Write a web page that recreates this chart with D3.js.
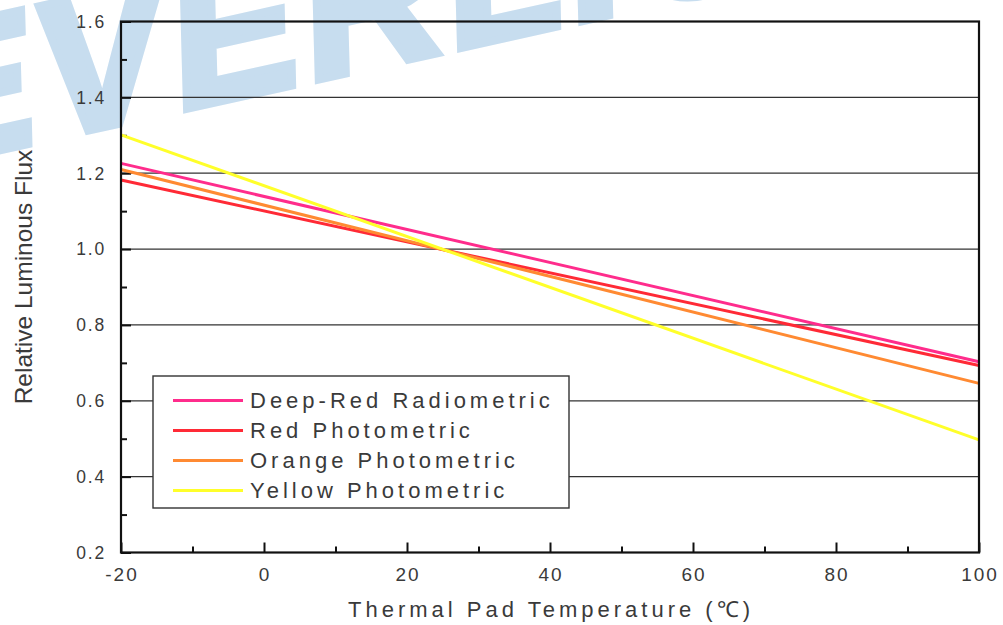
<!DOCTYPE html>
<html>
<head>
<meta charset="utf-8">
<script src="https://cdn.jsdelivr.net/npm/d3@7"></script>
<style>
  html, body { margin: 0; padding: 0; background: #fff; }
  svg { display: block; }
</style>
</head>
<body>
<svg id="chart" width="1003" height="625"></svg>
<script>
// ---- data ----
const temperatures = [-20, 100];
const deepRedRadiometric = [1.226, 0.703];
const redPhotometric = [1.182, 0.693];
const orangePhotometric = [1.210, 0.646];
const yellowPhotometric = [1.301, 0.497];
const seriesNames = ["Deep-Red Radiometric", "Red Photometric", "Orange Photometric", "Yellow Photometric"];
const seriesColors = ["#ff2c8c", "#ff2a36", "#ff8a32", "#ffff2a"];
const xTickValues = [-20, 0, 20, 40, 60, 80, 100];
const yTickValues = [0.2, 0.4, 0.6, 0.8, 1.0, 1.2, 1.4, 1.6];
const xTitle = "Thermal Pad Temperature (\u2103)";
const yTitle = "Relative Luminous Flux";
const watermark = "EVERLIGHT";

const seriesValues = [deepRedRadiometric, redPhotometric, orangePhotometric, yellowPhotometric];

// ---- layout ----
const svg = d3.select("#chart");
const pLeft = 121, pRight = 979, pTop = 21.5, pBottom = 552.5;
const x = d3.scaleLinear().domain([-20, 100]).range([pLeft, pRight]);
const y = d3.scaleLinear().domain([0.2, 1.6]).range([pBottom, pTop]);
const textColor = "#3a3a3a";

// watermark (behind everything)
svg.append("text")
  .attr("transform", "translate(-80,168) rotate(-12.5)")
  .attr("font-family", "'Liberation Sans', Arial, sans-serif")
  .attr("font-weight", "bold")
  .attr("font-style", "italic")
  .attr("font-size", 192)
  .attr("letter-spacing", 7)
  .attr("fill", "#c7ddef")
  .attr("stroke", "#c7ddef")
  .attr("stroke-width", 8)
  .attr("stroke-linejoin", "miter")
  .text(watermark);

// gridlines
svg.append("g")
  .selectAll("line")
  .data(yTickValues.filter(v => v > 0.2 && v < 1.6))
  .join("line")
  .attr("x1", pLeft).attr("x2", pRight)
  .attr("y1", d => y(d)).attr("y2", d => y(d))
  .attr("stroke", "#333").attr("stroke-width", 1.3);

// ticks via axes (inside)
const xMinor = d3.range(-10, 100, 20);
const yMinor = [0.3, 0.5, 0.7, 0.9, 1.1, 1.3, 1.5];

const xAxis = svg.append("g").attr("transform", `translate(0,${pBottom})`)
  .call(d3.axisTop(x).tickValues(xTickValues).tickSize(10).tickFormat(""));
const xAxisMinor = svg.append("g").attr("transform", `translate(0,${pBottom})`)
  .call(d3.axisTop(x).tickValues(xMinor).tickSize(6).tickFormat(""));
const yAxis = svg.append("g").attr("transform", `translate(${pLeft},0)`)
  .call(d3.axisRight(y).tickValues(yTickValues).tickSize(10).tickFormat(""));
const yAxisMinor = svg.append("g").attr("transform", `translate(${pLeft},0)`)
  .call(d3.axisRight(y).tickValues(yMinor).tickSize(6).tickFormat(""));
[xAxis, xAxisMinor, yAxis, yAxisMinor].forEach(g => {
  g.select(".domain").remove();
  g.selectAll(".tick line").attr("stroke", "#111").attr("stroke-width", 2);
});

// tick labels
svg.append("g").selectAll("text")
  .data(xTickValues).join("text")
  .attr("x", d => x(d) + 1).attr("y", 581)
  .attr("text-anchor", "middle")
  .attr("font-family", "'Liberation Sans', Arial, sans-serif")
  .attr("font-size", 19).attr("letter-spacing", 2)
  .attr("fill", textColor)
  .text(d => String(d));

svg.append("g").selectAll("text")
  .data(yTickValues).join("text")
  .attr("x", 106).attr("y", d => y(d))
  .attr("dy", "0.36em")
  .attr("text-anchor", "end")
  .attr("font-family", "'Liberation Sans', Arial, sans-serif")
  .attr("font-size", 17.5).attr("letter-spacing", 1.8)
  .attr("fill", textColor)
  .text(d => d3.format(".1f")(d));

// series lines
const line = d3.line().x((d, i) => x(temperatures[i])).y(d => y(d));
svg.append("g").selectAll("path")
  .data(seriesValues).join("path")
  .attr("d", d => line(d))
  .attr("fill", "none")
  .attr("stroke", (d, i) => seriesColors[i])
  .attr("stroke-width", 3);

// frame
svg.append("rect")
  .attr("x", pLeft).attr("y", pTop)
  .attr("width", pRight - pLeft).attr("height", pBottom - pTop)
  .attr("fill", "none").attr("stroke", "#111").attr("stroke-width", 2.2);

// legend
const legend = svg.append("g");
legend.append("rect")
  .attr("x", 153).attr("y", 376).attr("width", 416).attr("height", 132)
  .attr("fill", "#fff").attr("stroke", "#333").attr("stroke-width", 1.4);
const rowY = [400.5, 430.5, 460.5, 490.5];
seriesNames.forEach((name, i) => {
  legend.append("line")
    .attr("x1", 173).attr("x2", 243)
    .attr("y1", rowY[i]).attr("y2", rowY[i])
    .attr("stroke", seriesColors[i]).attr("stroke-width", 3);
  legend.append("text")
    .attr("x", 250).attr("y", rowY[i] + 7.5)
    .attr("font-family", "'Liberation Sans', Arial, sans-serif")
    .attr("font-size", 22).attr("letter-spacing", 4)
    .attr("fill", textColor)
    .text(name);
});

// axis titles
svg.append("text")
  .attr("x", 551).attr("y", 617)
  .attr("text-anchor", "middle")
  .attr("font-family", "'Liberation Sans', Arial, sans-serif")
  .attr("font-size", 22).attr("letter-spacing", 4)
  .attr("fill", textColor)
  .text(xTitle);

svg.append("text")
  .attr("transform", "translate(32,277) rotate(-90)")
  .attr("text-anchor", "middle")
  .attr("font-family", "'Liberation Sans', Arial, sans-serif")
  .attr("font-size", 24.5)
  .attr("fill", textColor)
  .text(yTitle);
</script>
</body>
</html>
